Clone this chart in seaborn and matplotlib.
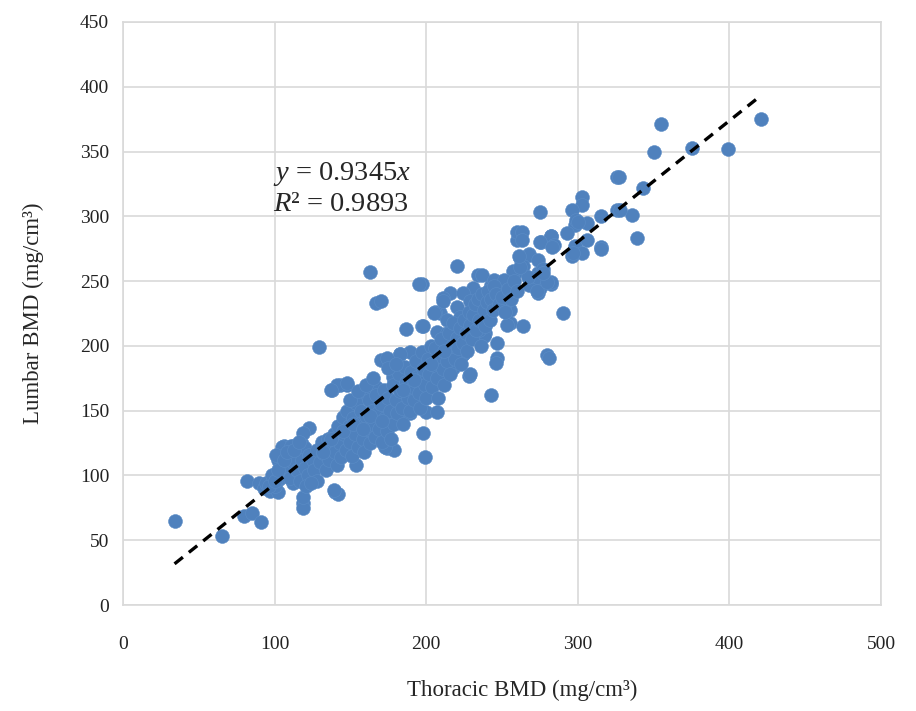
import numpy as np
import pandas as pd
import matplotlib
matplotlib.use('Agg')
import matplotlib.pyplot as plt
import seaborn as sns

# ---- data (thoracic BMD, lumbar BMD) ----
thoracic = [
    34, 65, 80, 85, 91, 82, 90, 93, 97, 102, 100, 103, 106, 106, 110, 112, 115, 118, 120, 119, 119, 140, 142,
    138, 148, 143, 123, 119, 105, 112, 102, 99, 94, 154, 139, 119, 174, 179, 177, 185, 156, 167, 178, 125, 112, 104,
    167, 187, 197, 170, 183, 141, 148, 155, 162, 189, 200, 207, 228, 216, 224, 209, 220, 207, 196, 181,
    220, 234, 197, 260, 260, 276, 282, 262, 268, 259, 274, 282, 274, 290, 216, 211, 232, 243, 251,
    255, 255, 264, 239, 206, 198, 247, 247, 280, 216,
    326, 275, 343, 326, 336, 339, 303, 303, 296, 315, 306, 298, 293, 306, 298, 315, 303, 296,
    282, 275, 284, 263, 263, 268, 274, 264, 277, 282, 275, 268, 273,
    355, 350, 375, 399, 421, 327, 328, 315,
    129, 195, 205, 211, 189, 101, 209, 214, 205, 209, 198, 199, 173, 176, 167, 137, 111,
    281, 246, 229, 243, 253, 238, 211, 218, 224, 170, 163,
    299, 297, 273, 257, 280, 267, 242, 231, 224, 251, 235, 229, 222, 214, 214, 224, 235, 238, 183, 174,
    237, 245, 251, 283, 277, 262, 261, 300,
    104, 108, 110, 112, 115, 117, 118, 120, 122, 123, 125, 126, 128, 128, 130, 131, 132, 134, 135, 136,
    138, 139, 140, 141, 142, 143, 144, 145, 146, 147, 148, 149, 150, 151, 152, 153, 154, 155, 156, 157,
    158, 159, 160, 161, 162, 163, 164, 165, 166, 167, 168, 169, 170, 171, 172, 173, 174, 175, 176, 177,
    178, 179, 180, 181, 182, 183, 184, 185, 186, 187, 188, 189, 190, 191, 192, 193, 194, 195, 196, 197,
    198, 199, 200, 201, 202, 203, 204, 205, 206, 207, 208, 209, 210, 211, 212, 213, 214, 215, 216, 217,
    218, 219, 220, 221, 222, 223, 224, 225, 226, 227, 228, 229, 230, 231, 232, 233, 234, 235, 236, 237,
    238, 239, 240, 241, 242, 243, 244, 245, 246, 248, 250, 252, 254, 256, 258, 260,
    96, 98, 100, 102, 106, 108, 113, 116, 121, 124, 150, 155, 160, 165, 175, 180,
    132, 137, 145, 152, 158, 163, 171, 185, 192, 203, 212,
]
lumbar = [
    65, 53, 69, 71, 64, 96, 94, 90, 88, 87, 92, 97, 104, 123, 122, 113, 118, 124, 121, 79, 75, 87, 86,
    166, 170, 170, 137, 133, 122, 123, 112, 99, 94, 108, 89, 83, 121, 120, 140, 148, 160, 168, 176, 106, 94, 99,
    233, 213, 215, 189, 194, 170, 171, 160, 162, 148, 149, 149, 177, 184, 194, 225, 230, 211, 161, 156,
    262, 255, 248, 282, 288, 280, 285, 268, 271, 257, 256, 248, 241, 225, 241, 237, 241, 247, 248,
    228, 218, 215, 210, 226, 215, 202, 191, 193, 200,
    330, 303, 322, 305, 301, 283, 315, 309, 305, 300, 295, 293, 287, 282, 277, 276, 272, 269,
    285, 280, 278, 288, 282, 270, 266, 262, 259, 249, 245, 247, 242,
    371, 350, 353, 352, 375, 330, 305, 275,
    199, 248, 225, 235, 195, 116, 174, 179, 191, 187, 133, 114, 122, 143, 135, 166, 123,
    191, 187, 178, 162, 216, 208, 174, 183, 194, 235, 257,
    297, 272, 253, 258, 249, 253, 243, 245, 241, 230, 230, 235, 222, 220, 210, 210, 212, 222, 194, 191,
    255, 251, 251, 276, 256, 261, 269, 296,
    100, 106, 98, 110, 104, 96, 112, 106, 100, 116, 112, 104, 120, 96, 110, 126, 117, 104, 128, 112,
    122, 132, 118, 108, 138, 125, 114, 145, 132, 120, 150, 138, 126, 115, 144, 132, 156, 122, 140, 150,
    128, 118, 146, 136, 158, 125, 150, 140, 130, 162, 148, 136, 155, 126, 166, 144, 134, 160, 150, 128,
    170, 140, 158, 148, 178, 165, 152, 140, 184, 172, 160, 150, 180, 168, 158, 188, 176, 164, 152, 195,
    182, 170, 160, 190, 178, 200, 168, 185, 198, 175, 160, 192, 205, 182, 170, 196, 188, 210, 178, 200,
    218, 190, 206, 198, 214, 186, 202, 220, 210, 196, 226, 216, 205, 224, 232, 212, 236, 220, 200, 240,
    228, 215, 234, 242, 220, 236, 228, 246, 240, 232, 238, 226, 244, 236, 250, 242,
    92, 100, 96, 104, 112, 118, 120, 126, 92, 94, 158, 165, 170, 175, 183, 186,
    118, 128, 134, 140, 136, 146, 142, 166, 174, 186, 196,
]
slope = 0.9345
r2 = 0.9893

df = pd.DataFrame({'Thoracic': thoracic, 'Lumbar': lumbar})

sns.set_style('white')
plt.rcParams['font.family'] = ['Liberation Serif', 'DejaVu Serif']
plt.rcParams['mathtext.fontset'] = 'custom'
plt.rcParams['mathtext.rm'] = 'Liberation Serif'
plt.rcParams['mathtext.it'] = 'Liberation Serif:italic'

fig = plt.figure(figsize=(9.16, 7.11), dpi=100)
ax = fig.add_axes([123 / 916, 1 - 605 / 711, 758 / 916, 583 / 711])

grid_c = '#d9d9d9'
ax.set_xlim(0, 500)
ax.set_ylim(0, 450)
ax.set_xticks(np.arange(0, 501, 100))
ax.set_yticks(np.arange(0, 451, 50))
ax.grid(True, color=grid_c, linewidth=1.2)
ax.set_axisbelow(True)
for s in ax.spines.values():
    s.set_color(grid_c)
    s.set_linewidth(1.2)
ax.tick_params(length=0, labelsize=14, colors='#222222')
ax.tick_params(axis='x', pad=22)
ax.tick_params(axis='y', pad=10)

sns.scatterplot(data=df, x='Thoracic', y='Lumbar', color='#4f81bd', s=100,
                edgecolor='#5b8cc6', linewidth=0.4, ax=ax, zorder=3)

# linear trend through origin
xs = np.array([min(thoracic), max(thoracic)])
ax.plot(xs, slope * xs, color='black', linestyle=(0, (3.2, 2.3)), linewidth=2.4, zorder=4)

ax.text(99, 333, r'$y$ = 0.9345$x$', fontsize=20.5, va='center', ha='left', zorder=5)
ax.text(99, 309, r'$R$² = 0.9893', fontsize=20.5, va='center', ha='left', zorder=5)

ax.set_xlabel('Thoracic BMD (mg/cm³)', fontsize=16.5)
ax.xaxis.set_label_coords((522 - 123) / 758, -0.146)
ax.xaxis.label.set_va('center')
ax.set_ylabel('Lumbar BMD (mg/cm³)', fontsize=16.5, labelpad=26)

fig.savefig('out.png', dpi=100)
